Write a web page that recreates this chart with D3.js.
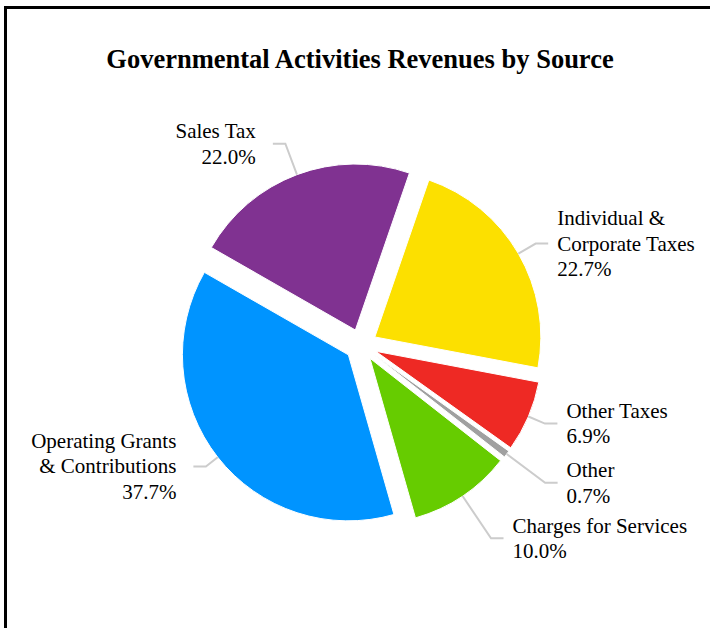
<!DOCTYPE html>
<html>
<head>
<meta charset="utf-8">
<script src="https://cdn.jsdelivr.net/npm/d3@7/dist/d3.min.js"></script>
<style>
  html, body { margin: 0; padding: 0; background: #fff; }
  svg { display: block; }
  text { font-family: "Liberation Serif", "Times New Roman", serif; fill: #000; }
</style>
</head>
<body>
<svg id="chart" width="710" height="628"></svg>
<script>
// Revenue sources, clockwise from the first slice
const categories = [
  ["Individual &", "Corporate Taxes"],
  ["Other Taxes"],
  ["Other"],
  ["Charges for Services"],
  ["Operating Grants", "& Contributions"],
  ["Sales Tax"]
];
const shares = [22.7, 6.9, 0.7, 10.0, 37.7, 22.0];
const colors = ["#FCE000", "#EE2924", "#A0A0A0", "#66CC00", "#0094FF", "#803291"];

// Leader elbow distance from the pie centre, per slice
const leaderReach = [202, 200, 230, 233, 197, 215];

const W = 710, H = 628;
const cx = 361, cy = 345;
const radius = 166;
const explode = 16;
const startDeg = 19;

const svg = d3.select("#chart");

// frame
svg.append("rect")
  .attr("x", 5.5).attr("y", 7.5)
  .attr("width", W + 20).attr("height", H + 20)
  .attr("fill", "none").attr("stroke", "#000").attr("stroke-width", 3);

// title
svg.append("text")
  .attr("x", 360).attr("y", 68)
  .attr("text-anchor", "middle")
  .style("font-weight", "bold")
  .style("font-size", "26.5px")
  .text("Governmental Activities Revenues by Source");

const data = categories.map((c, i) => ({ lines: c, value: shares[i], color: colors[i], reach: leaderReach[i] }));

const start = startDeg * Math.PI / 180;
const pie = d3.pie().sort(null).value(d => d.value)
  .startAngle(start).endAngle(start + 2 * Math.PI);
const arc = d3.arc().innerRadius(0).outerRadius(radius);

const arcs = pie(data);
const g = svg.append("g").attr("transform", `translate(${cx},${cy})`);

const mid = a => (a.startAngle + a.endAngle) / 2;
const polar = (ang, r) => [Math.sin(ang) * r, -Math.cos(ang) * r];

// slices, each pushed out along its bisector
g.selectAll("path.slice")
  .data(arcs)
  .join("path")
  .attr("class", "slice")
  .attr("d", arc)
  .attr("fill", d => d.data.color)
  .attr("stroke", "#fff")
  .attr("stroke-width", 1)
  .attr("transform", d => {
    const [x, y] = polar(mid(d), explode);
    return `translate(${x},${y})`;
  });

// leaders and labels
const lineH = 25.5;
const hSeg = 12.5;
arcs.forEach(d => {
  const a = mid(d);
  const right = Math.sin(a) >= 0;
  const p0 = polar(a, radius + explode);
  const p1 = polar(a, d.data.reach);
  const p2 = [p1[0] + (right ? hSeg : -hSeg), p1[1]];
  g.append("polyline")
    .attr("points", [p0, p1, p2].map(p => p.join(",")).join(" "))
    .attr("fill", "none")
    .attr("stroke", "#cccccc")
    .attr("stroke-width", 2);

  const lines = d.data.lines.concat([d.data.value.toFixed(1) + "%"]);
  const n = lines.length;
  const tx = p2[0] + (right ? 9 : -17);
  const t = g.append("text")
    .attr("text-anchor", right ? "start" : "end")
    .style("font-size", "21px");
  lines.forEach((s, i) => {
    t.append("tspan")
      .attr("x", tx)
      .attr("y", p1[1] + (i - (n - 1) / 2) * lineH + 7)
      .text(s);
  });
});
</script>
</body>
</html>
